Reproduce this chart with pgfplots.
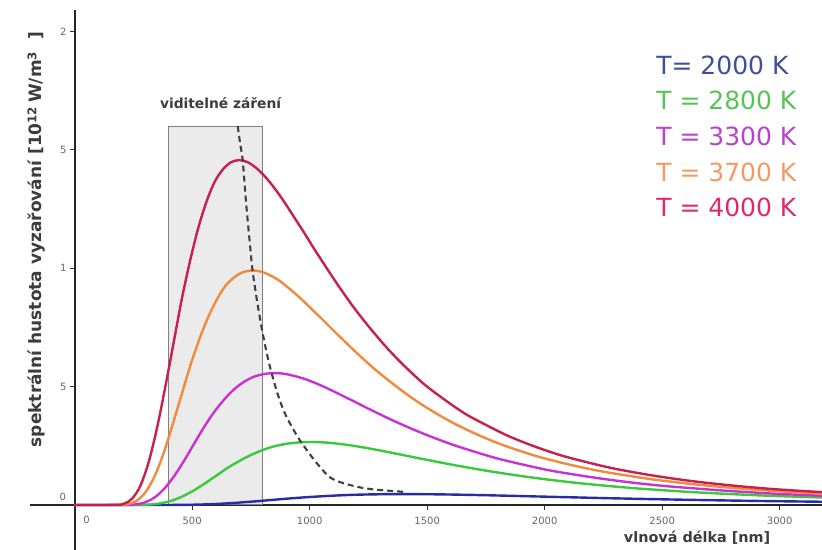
\documentclass[border=0pt]{standalone}
\usepackage{fontspec}
\setmainfont{DejaVu Sans}
\usepackage{pgfplots}
\pgfplotsset{compat=1.18}
\definecolor{c2000}{HTML}{2A2AA8}
\definecolor{c2800}{HTML}{3CC83C}
\definecolor{c3300}{HTML}{C832D2}
\definecolor{c3700}{HTML}{F08A3C}
\definecolor{c4000}{HTML}{C8204E}
\definecolor{t2000}{HTML}{3D4F9E}
\definecolor{t2800}{HTML}{55C455}
\definecolor{t3300}{HTML}{B842CC}
\definecolor{t3700}{HTML}{F09A64}
\definecolor{t4000}{HTML}{E0286A}
\definecolor{boxfill}{HTML}{EBEBEB}
\definecolor{labelgray}{HTML}{3C3C3C}

\begin{document}
\begin{tikzpicture}
\begin{axis}[
  name=ax,
  scale only axis, width=396pt, height=270pt,
  xmin=-190, xmax=3180, ymin=-0.19, ymax=2.09,
  axis lines=middle,
  axis line style={-, line width=1pt, draw=black!85},
  clip mode=individual,
  xtick={500,1000,...,3000},
  ytick={0.5,1,1.5,2},
  yticklabels={5,1,5,2},
  tick align=outside,
  major tick length=2.5pt,
  tick style={black!80, line width=0.5pt},
  /pgf/number format/assume math mode=true,
  /pgf/number format/1000 sep={},
  ticklabel style={font=\fontsize{5}{6}\selectfont, text=black!60},
  yticklabel style={xshift=2pt},
  every axis plot/.append style={line width=1.2pt, smooth},
]
% visible band
\addplot[draw=black!50, line width=0.5pt, fill=boxfill, sharp plot] coordinates {
  (400,0)(400,1.6)(800,1.6)(800,0)(400,0)};

% T = 2000 K
\addplot[c2000] coordinates {
  (0,0)(350,0)(420,0.0002)(490,0.0009)(560,0.0026)(630,0.0057)(700,0.0102)
  (771,0.0156)(841,0.0215)(911,0.0273)(981,0.0324)(1051,0.0368)(1121,0.0404)
  (1191,0.0431)(1261,0.0447)(1331,0.0457)(1401,0.046)(1541,0.0450)(1681,0.0427)
  (1821,0.0396)(1961,0.0361)(2102,0.0327)(2242,0.0293)(2382,0.0263)(2522,0.0235)
  (2662,0.0209)(2802,0.0186)(2977,0.0161)(3152,0.0140)(3327,0.0122)};
% T = 2800 K
\addplot[c2800] coordinates {
  (0,0)(251,0.0001)(302,0.0010)(352,0.0050)(402,0.0150)(452,0.0331)(503,0.0591)
  (553,0.0904)(603,0.124)(653,0.158)(704,0.1875)(754,0.213)(804,0.2335)
  (854,0.249)(905,0.2587)(955,0.2643)(1005,0.266)(1055,0.2646)(1106,0.2603)
  (1156,0.2544)(1206,0.2468)(1256,0.2382)(1307,0.2288)(1357,0.2188)(1407,0.2089)
  (1457,0.1988)(1508,0.1889)(1608,0.1697)(1709,0.1519)(1809,0.1357)(1910,0.1210)
  (2010,0.1078)(2136,0.0932)(2261,0.0812)(2387,0.0704)(2513,0.0617)(2638,0.0538)
  (2764,0.0474)(2889,0.0416)(3015,0.0368)(3266,0.0289)};
% T = 3300 K
\addplot[c3300] coordinates {
  (0,0)(212,0.0002)(255,0.0021)(297,0.0104)(340,0.0315)(382,0.0694)(425,0.124)
  (467,0.189)(509,0.260)(552,0.331)(594,0.393)(637,0.446)(679,0.489)
  (722,0.521)(764,0.542)(807,0.553)(849,0.557)(891,0.554)(934,0.545)
  (976,0.533)(1019,0.517)(1061,0.499)(1104,0.479)(1146,0.458)(1189,0.4375)
  (1231,0.416)(1274,0.395)(1358,0.355)(1443,0.318)(1528,0.284)(1613,0.253)
  (1698,0.226)(1804,0.195)(1910,0.170)(2016,0.147)(2123,0.129)(2229,0.113)
  (2335,0.099)(2441,0.087)(2547,0.077)(2759,0.061)(2972,0.048)(3184,0.039)
  (3269,0.036)};
% T = 3700 K
\addplot[c3700] coordinates {
  (0,0)(189,0.0003)(227,0.0038)(265,0.0185)(303,0.056)(341,0.123)(379,0.220)
  (416,0.337)(454,0.462)(492,0.588)(530,0.698)(568,0.793)(606,0.869)
  (643,0.927)(681,0.963)(719,0.984)(757,0.990)(795,0.985)(833,0.969)
  (871,0.947)(908,0.918)(946,0.886)(984,0.851)(1022,0.814)(1060,0.778)
  (1098,0.740)(1136,0.703)(1211,0.632)(1287,0.565)(1363,0.505)(1438,0.450)
  (1514,0.401)(1609,0.347)(1703,0.302)(1798,0.262)(1893,0.229)(1987,0.200)
  (2082,0.176)(2176,0.155)(2271,0.137)(2460,0.108)(2650,0.086)(2839,0.069)
  (3028,0.056)(3217,0.046)(3255,0.044)};
% T = 4000 K
\addplot[c4000] coordinates {
  (0,0)(175,0.0005)(210,0.0055)(245,0.027)(280,0.082)(315,0.181)(350,0.323)
  (385,0.495)(420,0.679)(455,0.865)(490,1.026)(525,1.166)(560,1.278)
  (595,1.363)(630,1.416)(665,1.447)(700,1.456)(735,1.448)(770,1.425)
  (805,1.392)(840,1.351)(875,1.304)(910,1.252)(945,1.198)(980,1.144)
  (1015,1.088)(1050,1.034)(1120,0.929)(1190,0.831)(1260,0.743)(1330,0.662)
  (1400,0.590)(1487,0.510)(1575,0.444)(1662,0.385)(1750,0.338)(1837,0.295)
  (1925,0.259)(2012,0.228)(2100,0.201)(2275,0.158)(2450,0.126)(2625,0.101)
  (2800,0.082)(2975,0.067)(3150,0.056)(3250,0.051)};
% Wien locus
\addplot[black!75, line width=1.05pt, dash pattern=on 3pt off 2pt] coordinates {
  (694,1.60)(705,1.52)(715,1.456)(730,1.27)(745,1.11)(757,0.99)(778,0.85)
  (800,0.726)(820,0.63)(838,0.557)(865,0.465)(894,0.388)(930,0.32)(966,0.262)
  (1030,0.177)(1085,0.118)(1140,0.093)(1226,0.072)(1300,0.063)(1370,0.058)(1400,0.055)};

\node[font=\fontsize{5}{6}\selectfont, text=black!60] at (axis cs:51,-0.063) {0};
\node[font=\fontsize{5}{6}\selectfont, text=black!60] at (axis cs:-50,0.034) {0};
\node[font=\bfseries\fontsize{6.9}{8}\selectfont, text=labelgray] at (axis cs:621,1.696) {viditelné záření};
\node[font=\bfseries\fontsize{7.2}{8}\selectfont, text=labelgray, anchor=east] at (axis cs:2990,-0.138) {vlnová délka [nm]};
\node[font=\bfseries\fontsize{8.5}{9}\selectfont, text=labelgray, rotate=90] at (axis cs:-162,1.122)
  {spektrální hustota vyzařování [10\textsuperscript{12}\,W/m\textsuperscript{3}\ \ ]};

\node[font=\fontsize{12.5}{14}\selectfont, text=t2000, anchor=west] at (axis cs:2445,1.857) {T= 2000 K};
\node[font=\fontsize{12.5}{14}\selectfont, text=t2800, anchor=west] at (axis cs:2445,1.709) {T = 2800 K};
\node[font=\fontsize{12.5}{14}\selectfont, text=t3300, anchor=west] at (axis cs:2445,1.557) {T = 3300 K};
\node[font=\fontsize{12.5}{14}\selectfont, text=t3700, anchor=west] at (axis cs:2445,1.405) {T = 3700 K};
\node[font=\fontsize{12.5}{14}\selectfont, text=t4000, anchor=west] at (axis cs:2445,1.257) {T = 4000 K};
\end{axis}
\pgfresetboundingbox
\path ([xshift=-15pt]ax.south west) rectangle ([yshift=5pt]ax.north east);
\end{tikzpicture}
\end{document}
